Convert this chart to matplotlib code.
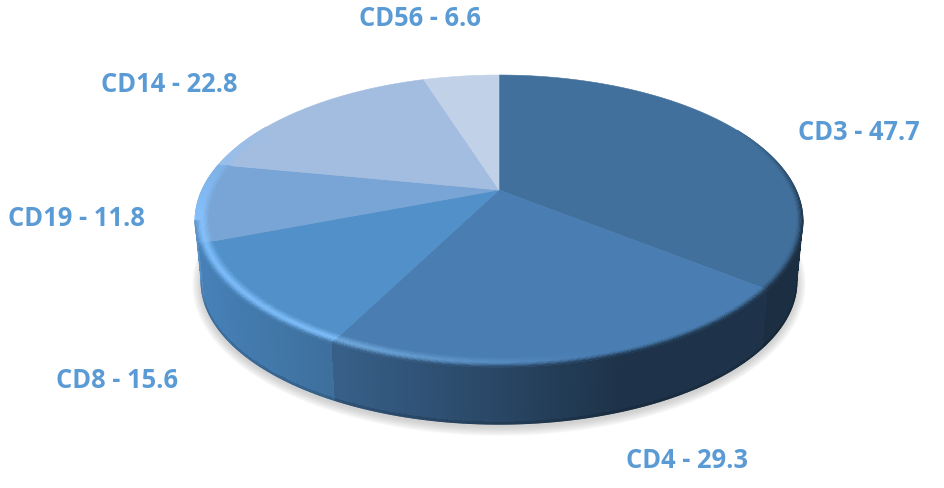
import numpy as np
import matplotlib
matplotlib.use("Agg")
import matplotlib.pyplot as plt
from matplotlib.collections import LineCollection
from matplotlib.colors import to_rgb
from matplotlib.path import Path
from matplotlib.transforms import Affine2D, Transform

categories = ["CD3", "CD4", "CD8", "CD19", "CD14", "CD56"]
values = [47.7, 29.3, 15.6, 11.8, 22.8, 6.6]

top_colors = ["#41709C", "#4A7EB3", "#5190C8", "#78A5D6", "#A2BDE0", "#C1D2E8"]
wall_left = ["#1C2E42", "#375F88", "#4680B6", "#5A90C6", "#A2BDE0", "#C1D2E8"]
wall_right = ["#1C2E42", "#1E3349", "#3D6E9B", "#4680B6", "#A2BDE0", "#C1D2E8"]
wall_x0 = [640, 340, 205, 195, 195, 400]
wall_x1 = [803, 620, 340, 205, 225, 500]
peak_colors = ["#41709C", "#6FA8DC", "#7CBCF9", "#85BFFA", "#A2BDE0", "#C1D2E8"]
label_pos = [(859, 133), (687, 460), (117, 381), (76, 219), (169, 84), (420, 19)]
text_color = "#5B9BD5"

CX, CY, A, B, P = 499.0, 190.0, 297.0, 139.4, 0.2123
ELL_Y, DEPTH, SHRINK = 221.0, 60.0, 0.02


class DiskPerspective(Transform):
    input_dims = 2
    output_dims = 2
    is_separable = False
    has_inverse = False

    def transform_non_affine(self, xy):
        xy = np.asarray(xy, float)
        u, v = xy[:, 0], -xy[:, 1]
        w = 1 - P * v
        return np.column_stack([CX + A * u / w, CY + B * v / w])

    def transform_path_non_affine(self, path):
        scaled = Affine2D().scale(3000).transform_path(path)
        polys = scaled.to_polygons(closed_only=True)
        return Path(self.transform_non_affine(polys[0] / 3000.0), closed=True)


persp = DiskPerspective()
fig = plt.figure(figsize=(9.45, 4.88), dpi=100, facecolor="white")
ax = fig.add_axes([0, 0, 1, 1])

wedges, _ = ax.pie(values, colors=top_colors, startangle=90, counterclock=False, radius=1.0)
ax.set_aspect("auto")
ax.set_xlim(0, 945)
ax.set_ylim(488, 0)
ax.axis("off")
for w, c in zip(wedges, top_colors):
    w.set_transform(persp + ax.transData)
    w.set_edgecolor(c)
    w.set_linewidth(0.4)
    w.set_zorder(5)

edges = np.cumsum([0] + values) / np.sum(values) * 360.0


def disk_xy(theta_deg, r):
    t = np.radians(theta_deg)
    pts = np.column_stack([(r * np.sin(t)).ravel(), (r * np.cos(t)).ravel()])
    out = persp.transform(pts)
    return out[:, 0].reshape(np.shape(t)), out[:, 1].reshape(np.shape(t))


def slice_of(theta):
    return np.clip(np.searchsorted(edges, theta % 360.0, side="right") - 1, 0, len(values) - 1)


def wall_rgb(theta):
    i = slice_of(theta)
    x, _ = disk_xy(np.array(theta), np.array(1.0))
    f = np.clip((x - wall_x0[i]) / (wall_x1[i] - wall_x0[i]), 0, 1)
    return (1 - f) * np.array(to_rgb(wall_left[i])) + f * np.array(to_rgb(wall_right[i]))


def highlight(theta):
    x, _ = disk_xy(np.array(theta), np.array(1.0))
    i = slice_of(theta)
    if i == 1:
        return float(np.clip((600 - x) / 260.0, 0, 1)) ** 1.2
    if i in (2, 3):
        return 1.0
    return 0.0


def edge_lines(xs, ys, colors, zorder, lw=0.9):
    pts = np.column_stack([xs, ys])
    segs = np.stack([pts[:-1], pts[1:]], axis=1)
    ax.add_collection(LineCollection(segs, colors=colors, linewidths=lw, zorder=zorder,
                                     capstyle="round", antialiased=True), autolim=False)


# soft ground shadow
for k in range(12):
    g = k / 11.0
    grow = 9 * (1 - g)
    th = np.linspace(0, 360, 361)
    x, y = disk_xy(th, np.ones_like(th))
    xs = CX + (x - CX) * (1 - SHRINK) * (1 + grow / 300.0)
    ys = ELL_Y + (y - ELL_Y) * (1 - SHRINK) * (1 + grow / 146.0) + DEPTH + 3
    ax.fill(xs, ys, color="#9a9a9a", alpha=0.045, lw=0, zorder=1)

# side wall
wall_th = np.arange(102.0, 258.01, 0.25)
depths = np.linspace(0, 1, 25)
T, D = np.meshgrid(wall_th, depths)
x, y = disk_xy(T, np.ones_like(T))
X = CX + (x - CX) * (1 - SHRINK * D)
Y = ELL_Y + (y - ELL_Y) * (1 - SHRINK * D) + DEPTH * D
mid_th = 0.5 * (wall_th[:-1] + wall_th[1:])
mid_d = 0.5 * (depths[:-1] + depths[1:])
base_wall = np.array([wall_rgb(t) for t in mid_th])
C = np.zeros((len(mid_d), len(mid_th), 3))
for j, d in enumerate(mid_d):
    shade = 0.86 if d > 0.96 else 1.0
    C[j] = base_wall * shade
ax.pcolormesh(X, Y, C, edgecolor="none", antialiased=False, zorder=3)
edge_lines(X[-1], Y[-1], base_wall * 0.86, 4)
edge_lines(X[:, 0], Y[:, 0], np.tile(base_wall[0], (len(depths) - 1, 1)), 4)
edge_lines(X[:, -1], Y[:, -1], np.tile(base_wall[-1], (len(depths) - 1, 1)), 4)

# bevel on the rim of the top face
R0 = 0.955
bev_th = np.arange(62.0, 300.01, 0.25)
radii = np.linspace(R0, 1.0, 13)
T, Rr = np.meshgrid(bev_th, radii)
X, Y = disk_xy(T, Rr)
mid_th = 0.5 * (bev_th[:-1] + bev_th[1:])
mid_r = (0.5 * (radii[:-1] + radii[1:]) - R0) / (1 - R0)
C = np.zeros((len(mid_r), len(mid_th), 3))
for n, t in enumerate(mid_th):
    i = slice_of(t)
    base = np.array(to_rgb(top_colors[i]))
    peak = base + highlight(t) * (np.array(to_rgb(peak_colors[i])) - base)
    if t < 102:
        f = (t - 62) / 40.0
        outer = base + f * (np.array(to_rgb(wall_left[0])) - base)
    elif t > 258:
        f = (300 - t) / 42.0
        peak = base + f * (np.array(to_rgb(peak_colors[3])) - base)
        outer = peak
    else:
        outer = wall_rgb(t)
    for j, s in enumerate(mid_r):
        if s < 0.5:
            C[j, n] = base + (peak - base) * (s / 0.5)
        else:
            C[j, n] = peak + (outer - peak) * ((s - 0.5) / 0.5) ** 1.5
C = np.clip(C, 0, 1)
ax.pcolormesh(X, Y, C, edgecolor="none", antialiased=False, zorder=6)
edge_lines(X[-1], Y[-1], C[-1], 7, lw=0.7)

for cat, val, (lx, ly) in zip(categories, values, label_pos):
    ax.text(lx, ly, f"{cat} - {val}", color=text_color, fontsize=18.4, fontweight="bold",
            family="Open Sans", ha="center", va="center", zorder=10)

fig.savefig("out.png", dpi=100, facecolor="white")
